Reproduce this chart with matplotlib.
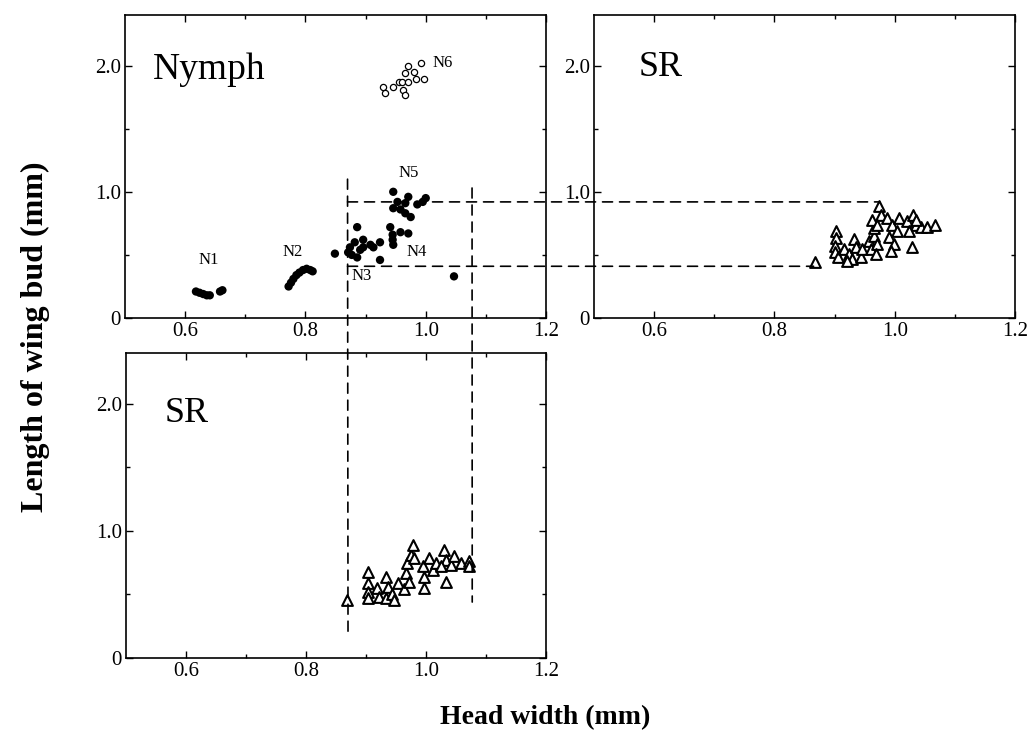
import matplotlib
matplotlib.use("Agg")
import matplotlib.pyplot as plt
from matplotlib.patches import ConnectionPatch
from matplotlib.ticker import FixedLocator, FixedFormatter

plt.rcParams['font.family'] = ['Liberation Serif', 'DejaVu Serif']

# nymph instars (filled circles), N6 open circles
n1_x = [0.618, 0.624, 0.630, 0.636, 0.641, 0.658, 0.662]
n1_y = [0.21, 0.20, 0.19, 0.18, 0.18, 0.21, 0.22]
n2_x = [0.772, 0.776, 0.780, 0.785, 0.790, 0.796, 0.802, 0.808, 0.812]
n2_y = [0.25, 0.28, 0.31, 0.34, 0.36, 0.38, 0.39, 0.38, 0.37]
n3_x = [0.849, 0.886, 0.874, 0.877, 0.886, 0.896, 0.908, 0.924, 0.924, 0.891, 0.896, 0.871, 0.882, 0.913]
n3_y = [0.51, 0.72, 0.56, 0.50, 0.48, 0.62, 0.58, 0.60, 0.46, 0.54, 0.56, 0.52, 0.60, 0.56]
n4_x = [0.941, 0.945, 0.946, 0.958, 0.971, 0.945]
n4_y = [0.72, 0.66, 0.58, 0.68, 0.67, 0.62]
n5_x = [0.946, 0.971, 1.000, 0.953, 0.966, 0.946, 0.958, 0.975, 0.986, 0.995, 0.966]
n5_y = [1.00, 0.96, 0.95, 0.92, 0.91, 0.87, 0.86, 0.80, 0.90, 0.92, 0.83]
odd_x = [1.047]
odd_y = [0.33]
n6_x = [0.929, 0.933, 0.945, 0.955, 0.963, 0.966, 0.966, 0.970, 0.980, 0.983, 0.992, 0.997, 0.961, 0.971]
n6_y = [1.83, 1.78, 1.83, 1.87, 1.81, 1.77, 1.94, 2.00, 1.95, 1.89, 2.02, 1.89, 1.87, 1.87]

# SR (upper right panel)
sr1_x = [0.867, 0.903, 0.903, 0.900, 0.900, 0.905, 0.916, 0.924, 0.933, 0.936, 0.929, 0.944, 0.946,
         0.921, 0.957, 0.960, 0.965, 0.970, 0.965, 0.962, 0.974, 0.977, 0.970, 0.969, 0.987, 0.995,
         0.990, 0.998, 1.007, 1.003, 0.993, 1.020, 1.031, 1.035, 1.028, 1.043, 1.023, 1.036, 1.053, 1.067]
sr1_y = [0.44, 0.69, 0.635, 0.57, 0.52, 0.48, 0.55, 0.51, 0.63, 0.56, 0.47, 0.48, 0.55,
         0.45, 0.61, 0.55, 0.65, 0.59, 0.71, 0.78, 0.89, 0.82, 0.74, 0.51, 0.79, 0.74,
         0.64, 0.59, 0.79, 0.69, 0.53, 0.77, 0.82, 0.74, 0.56, 0.72, 0.69, 0.78, 0.72, 0.74]

# SR (lower panel)
sr2_x = [0.869, 0.903, 0.903, 0.904, 0.904, 0.919, 0.921, 0.933, 0.936, 0.933, 0.944, 0.946, 0.953,
         0.963, 0.966, 0.971, 0.969, 0.975, 0.978, 0.980, 0.995, 0.997, 0.997, 1.005, 1.012, 1.017,
         1.030, 1.034, 1.034, 1.042, 1.047, 1.025, 1.059, 1.071, 1.072]
sr2_y = [0.46, 0.68, 0.59, 0.52, 0.47, 0.55, 0.48, 0.64, 0.56, 0.47, 0.50, 0.46, 0.59,
         0.54, 0.67, 0.60, 0.75, 0.81, 0.89, 0.79, 0.72, 0.64, 0.55, 0.79, 0.69, 0.75,
         0.85, 0.77, 0.60, 0.73, 0.80, 0.72, 0.75, 0.76, 0.72]

# instar labels: text, x, y
instar_labels = [("N1", 0.639, 0.46), ("N2", 0.778, 0.52), ("N3", 0.894, 0.33),
                 ("N4", 0.985, 0.52), ("N5", 0.971, 1.15), ("N6", 1.029, 2.02)]

# dashed guide lines
x_lo, x_hi = 0.87, 1.077
y_lo, y_hi = 0.41, 0.92

fig = plt.figure(figsize=(10.32, 7.37), dpi=100)
ax1 = fig.add_axes([0.1211, 0.5685, 0.408, 0.411])
ax2 = fig.add_axes([0.5756, 0.5685, 0.408, 0.411])
ax3 = fig.add_axes([0.1221, 0.1072, 0.407, 0.414])

for ax in (ax1, ax2, ax3):
    ax.set_xlim(0.5, 1.2)
    ax.set_ylim(0, 2.4)
    ax.xaxis.set_major_locator(FixedLocator([0.6, 0.8, 1.0, 1.2]))
    ax.xaxis.set_major_formatter(FixedFormatter(['0.6', '0.8', '1.0', '1.2']))
    ax.xaxis.set_minor_locator(FixedLocator([0.7, 0.9, 1.1]))
    ax.yaxis.set_major_locator(FixedLocator([0, 1.0, 2.0]))
    ax.yaxis.set_major_formatter(FixedFormatter(['0', '1.0', '2.0']))
    ax.yaxis.set_minor_locator(FixedLocator([0.5, 1.5]))
    ax.tick_params(which='both', direction='in', top=True, right=True, width=1.0)
    ax.tick_params(which='major', length=5, labelsize=15, pad=3)
    ax.tick_params(which='minor', length=3)
    for s in ax.spines.values():
        s.set_linewidth(1.2)

ax1.scatter(n1_x + n2_x + n3_x + n4_x + n5_x + odd_x,
            n1_y + n2_y + n3_y + n4_y + n5_y + odd_y,
            s=36, c='black', edgecolors='none')
ax1.scatter(n6_x, n6_y, s=20, facecolors='white', edgecolors='black', linewidths=0.9)
for t, x, y in instar_labels:
    ax1.text(x, y, t, fontsize=12, ha='center', va='center')
ax1.text(0.067, 0.79, "Nymph", transform=ax1.transAxes, fontsize=27)

ax2.scatter(sr1_x, sr1_y, s=60, marker='^', facecolors='white', edgecolors='black', linewidths=1.5)
ax2.text(0.105, 0.80, "SR", transform=ax2.transAxes, fontsize=26)

ax3.scatter(sr2_x, sr2_y, s=60, marker='^', facecolors='white', edgecolors='black', linewidths=1.5)
ax3.text(0.093, 0.774, "SR", transform=ax3.transAxes, fontsize=26)

dash = dict(color='black', linewidth=1.2, linestyle=(0, (6, 4.2)), zorder=5)
fig.add_artist(ConnectionPatch((x_lo, 1.10), (x_lo, 0.17), ax1.transData, ax3.transData, **dash))
fig.add_artist(ConnectionPatch((x_hi, 1.03), (x_hi, 0.44), ax1.transData, ax3.transData, **dash))
fig.add_artist(ConnectionPatch((x_lo, y_hi), (0.975, y_hi), ax1.transData, ax2.transData, **dash))
fig.add_artist(ConnectionPatch((x_lo, y_lo), (0.865, y_lo), ax1.transData, ax2.transData, **dash))

fig.text(0.034, 0.543, "Length of wing bud (mm)", rotation=90, ha='center', va='center',
         fontsize=23, fontweight='bold')
fig.text(0.528, 0.026, "Head width (mm)", ha='center', va='center',
         fontsize=20, fontweight='bold')

fig.savefig("out.png", dpi=100)
